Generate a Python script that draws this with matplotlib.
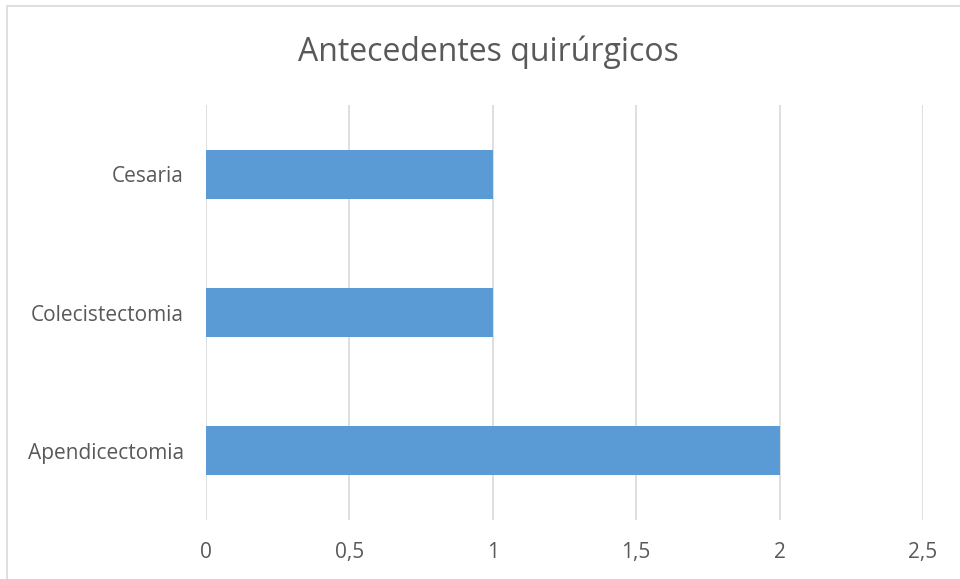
import matplotlib.pyplot as plt
import matplotlib.patches as mpatches

categories = ["Apendicectomia", "Colecistectomia", "Cesaria"]
values = [2, 1, 1]
xticks = [0, 0.5, 1, 1.5, 2, 2.5]
xtick_labels = ["0", "0,5", "1", "1,5", "2", "2,5"]

plt.rcParams['font.family'] = ['Open Sans', 'DejaVu Sans']
text_color = "#595959"

fig = plt.figure(figsize=(9.6, 5.79), dpi=100)
ax = fig.add_axes([206 / 960, 1 - 520 / 579, (923 - 206) / 960, (520 - 105) / 579])

# outer chart border (Excel-style)
fig.patches.append(mpatches.Rectangle((7 / 960, -0.1), 1.2, 1 - 6 / 579 + 0.1,
                                      transform=fig.transFigure, fill=False,
                                      edgecolor="#D9D9D9", lw=1.2))

ax.barh(range(len(categories)), values, height=0.355, color="#5B9BD5", zorder=3)

ax.set_xlim(0, 2.5)
ax.set_ylim(-0.5, len(categories) - 0.5)
ax.set_xticks(xticks)
ax.set_xticklabels(xtick_labels)
ax.set_yticks(range(len(categories)))
ax.set_yticklabels(categories)

ax.grid(axis="x", color="#D9D9D9", lw=1.2, zorder=0)
for s in ax.spines.values():
    s.set_visible(False)
ax.tick_params(axis="both", length=0, labelsize=15, colors=text_color)
ax.tick_params(axis="x", pad=16)
ax.tick_params(axis="y", pad=16)

fig.text(488 / 960, 1 - 52 / 579, "Antecedentes quirúrgicos", ha="center", va="center",
         fontsize=23, color=text_color)

fig.savefig("out.png", dpi=100)
